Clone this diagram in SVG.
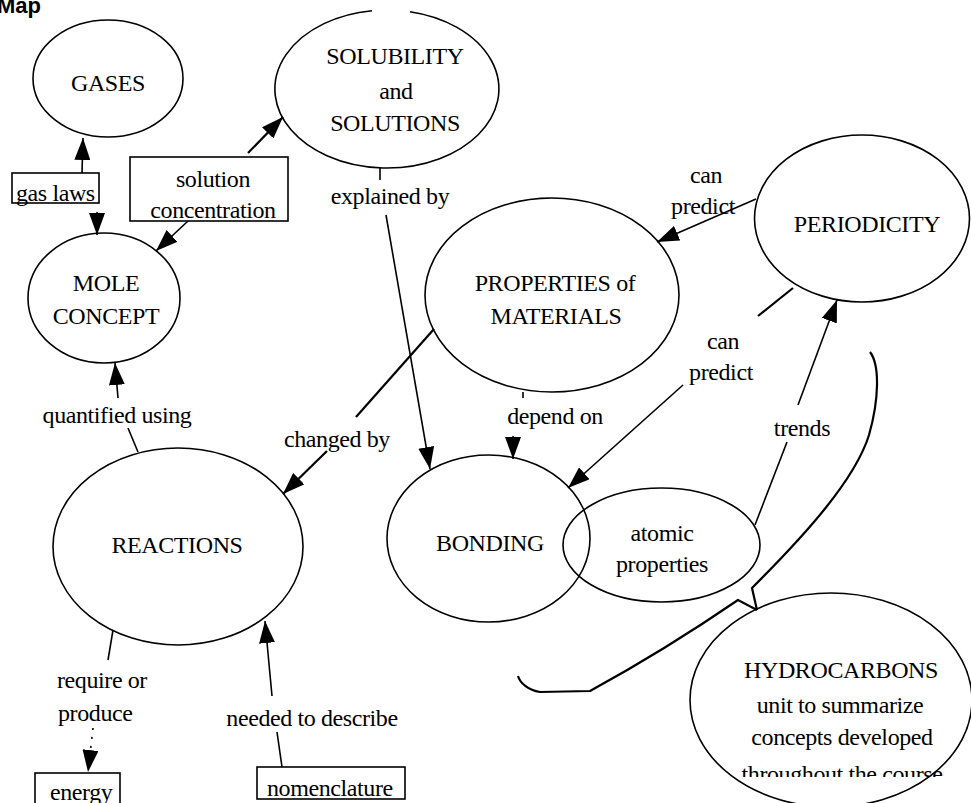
<svg xmlns="http://www.w3.org/2000/svg" width="971" height="803" viewBox="0 0 971 803">
<style>
.n{fill:none;stroke:#000;stroke-width:1.6}
.b{fill:none;stroke:#000;stroke-width:1.6}
.t{font-family:"Liberation Serif","Times New Roman",serif;font-size:24px;fill:#000;text-anchor:middle;letter-spacing:-0.4px}
.l{font-family:"Liberation Serif","Times New Roman",serif;font-size:24px;fill:#000;letter-spacing:-0.4px}
.c{fill:none;stroke:#000;stroke-width:1.6}
.k{stroke-width:2.2}
</style>
<defs>
<marker id="ah" viewBox="0 0 22 16" refX="22" refY="8" markerWidth="22" markerHeight="16" markerUnits="userSpaceOnUse" orient="auto">
<path d="M0,0 L22,8 L0,16 Z" fill="#000"/>
</marker>
<clipPath id="hc"><rect x="0" y="0" width="971" height="777"/></clipPath>
</defs>
<rect width="971" height="803" fill="#fff"/>
<text x="-3" y="13" font-family="'Liberation Sans',Arial,sans-serif" font-weight="bold" font-size="22">Map</text>

<g id="connectors">
<line class="c" x1="82" y1="173" x2="83" y2="138" marker-end="url(#ah)"/>
<line class="c" x1="97" y1="212" x2="97" y2="235" marker-end="url(#ah)"/>
<line class="c k" x1="248" y1="153" x2="283" y2="117" marker-end="url(#ah)"/>
<line class="c" x1="188" y1="221" x2="156" y2="251" marker-end="url(#ah)"/>
<line class="c" x1="380" y1="168" x2="380" y2="180"/>
<line class="c" x1="386" y1="215" x2="430" y2="469" marker-end="url(#ah)"/>
<line class="c" x1="523" y1="392" x2="523" y2="398"/>
<line class="c" x1="513" y1="436" x2="513" y2="459" marker-end="url(#ah)"/>
<line class="c" x1="756" y1="199" x2="657" y2="242" marker-end="url(#ah)"/>
<line class="c k" x1="793" y1="288" x2="758" y2="316"/>
<line class="c" x1="683" y1="385" x2="568" y2="488" marker-end="url(#ah)"/>
<line class="c" x1="755" y1="525" x2="787" y2="442"/>
<line class="c" x1="798" y1="405" x2="837" y2="300" marker-end="url(#ah)"/>
<line class="c k" x1="434" y1="329" x2="356" y2="417"/>
<line class="c k" x1="327" y1="451" x2="283" y2="494" marker-end="url(#ah)"/>
<line class="c" x1="138" y1="452" x2="128" y2="428"/>
<line class="c" x1="118" y1="398" x2="115" y2="363" marker-end="url(#ah)"/>
<line class="c" x1="113" y1="630" x2="108" y2="660"/>
<line class="c" x1="93" y1="728" x2="88" y2="772" stroke-dasharray="2 7" marker-end="url(#ah)"/>
<line class="c" x1="282" y1="767" x2="277" y2="732"/>
<line class="c" x1="272" y1="696" x2="265" y2="621" marker-end="url(#ah)"/>
<path class="c k" d="M870,352 C880,365 879,400 869,435 C855,480 805,535 752,588 L757,610"/>
<path class="c k" d="M757,610 L738,600 Q665,650 590,691 L540,692 C528,690 520,683 518,676"/>
</g>

<g id="gases">
<ellipse class="n" cx="108" cy="78.5" rx="75" ry="58.5"/>
<text class="t" x="108" y="91">GASES</text>
</g>
<g id="gas-laws">
<rect class="b" x="12" y="173" width="87" height="30"/>
<text class="l" x="16" y="201">gas laws</text>
</g>
<g id="solubility">
<path class="n" d="M410,11.7 A112,79 0 1 1 372,10.7"/>
<text class="t" x="395" y="64">SOLUBILITY</text>
<text class="t" x="396" y="99">and</text>
<text class="t" x="395" y="131">SOLUTIONS</text>
</g>
<g id="solution-concentration">
<rect class="b" x="130" y="157" width="158" height="64"/>
<text class="t" x="213" y="187">solution</text>
<text class="t" x="213" y="218">concentration</text>
</g>
<g id="mole">
<ellipse class="n" cx="104" cy="298" rx="76" ry="65"/>
<text class="t" x="106" y="291">MOLE</text>
<text class="t" x="106" y="324">CONCEPT</text>
</g>
<g id="properties">
<ellipse class="n" cx="552" cy="295" rx="127" ry="97"/>
<text class="t" x="555" y="291">PROPERTIES of</text>
<text class="t" x="556" y="324">MATERIALS</text>
</g>
<g id="periodicity">
<ellipse class="n" cx="862" cy="218.5" rx="107.5" ry="83.5"/>
<text class="t" x="867" y="232">PERIODICITY</text>
</g>
<g id="reactions">
<ellipse class="n" cx="178" cy="546.5" rx="125" ry="98.5"/>
<text class="t" x="177" y="553">REACTIONS</text>
</g>
<g id="bonding">
<ellipse class="n" cx="488.5" cy="538.5" rx="101.5" ry="83.5"/>
<text class="t" x="490" y="551">BONDING</text>
</g>
<g id="atomic-properties">
<ellipse class="n" cx="661.5" cy="545" rx="98.5" ry="57"/>
<text class="t" x="662" y="541">atomic</text>
<text class="t" x="662" y="572">properties</text>
</g>
<g id="hydrocarbons">
<ellipse class="n" cx="831" cy="700" rx="141" ry="107"/>
<text class="t" x="841" y="678">HYDROCARBONS</text>
<text class="t" x="840" y="713">unit to summarize</text>
<text class="t" x="842" y="745">concepts developed</text>
<text class="t" x="842" y="782" clip-path="url(#hc)">throughout the course</text>
</g>
<g id="energy">
<rect class="b" x="35" y="773" width="85" height="34"/>
<text class="l" x="50" y="800">energy</text>
</g>
<g id="nomenclature">
<rect class="b" x="257" y="767" width="148" height="32"/>
<text class="l" x="267" y="796">nomenclature</text>
</g>

<g id="labels">
<text class="t" x="390" y="204">explained by</text>
<text class="t" x="555" y="424">depend on</text>
<text class="t" x="706" y="183">can</text>
<text class="t" x="703" y="214">predict</text>
<text class="t" x="723" y="349">can</text>
<text class="t" x="721" y="380">predict</text>
<text class="t" x="802" y="436">trends</text>
<text class="t" x="337" y="447">changed by</text>
<text class="t" x="117" y="423">quantified using</text>
<text class="l" x="57" y="688">require or</text>
<text class="l" x="58" y="721">produce</text>
<text class="t" x="312" y="726">needed to describe</text>
</g>
</svg>
